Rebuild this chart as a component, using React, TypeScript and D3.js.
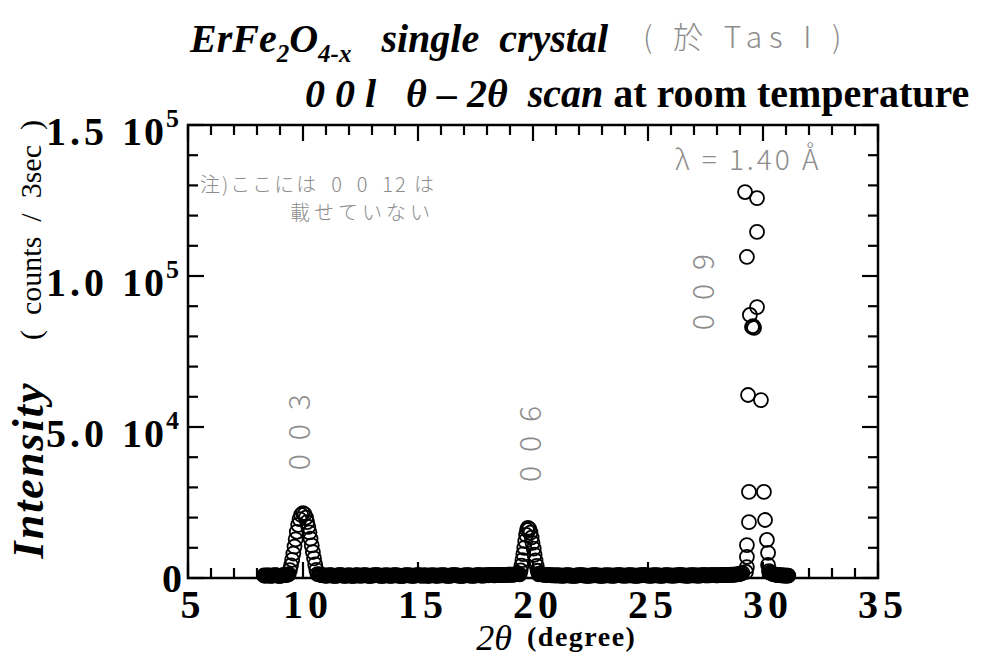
import React from "react";
import * as d3 from "d3";

// ---- chart data ---------------------------------------------------------
// 2θ axis range and labelled ticks
const xDomain: [number, number] = [5, 35];
const xTickValues = [5, 10, 15, 20, 25, 30, 35];
// intensity axis range and labelled ticks (mantissa × 10^exponent)
const yDomain: [number, number] = [0, 150000];
const yTickValues = [0, 50000, 100000, 150000];
const yTickMantissas = ["0", "5.0", "1.0", "1.5"];
const yTickExponents = ["", "4", "5", "5"];

// background scan segments: first 2θ and fixed 2θ step, counts per point
const bgStep = 0.05;
const bg1Start = 8.3;
const bg1Counts = [
  820, 790, 760, 840, 900, 810, 710, 780, 850, 900, 930, 860, 780, 730, 690, 770,
  880, 920, 960, 1010, 1050, 1150,
];
const bg2Start = 10.7;
const bg2Counts = [
  1180, 1090, 980, 900, 860, 820, 740, 790, 860, 900,
  910, 850, 780, 720, 690, 760, 830, 890, 950, 910,
  870, 800, 720, 760, 800, 840, 880, 820, 760, 700,
  690, 760, 920, 880, 840, 800, 770, 810, 860, 900,
  930, 870, 810, 750, 700, 740, 790, 840, 880, 930,
  950, 890, 830, 780, 720, 740, 760, 820, 890, 870,
  840, 770, 700, 760, 820, 870, 910, 880, 860, 800,
  750, 720, 690, 740, 800, 860, 930, 900, 870, 820,
  780, 750, 720, 780, 850, 900, 940, 880, 820, 790,
  760, 820, 880, 840, 710, 750, 790, 850, 900, 880,
  860, 800, 740, 770, 810, 840, 870, 900, 930, 870,
  800, 760, 720, 750, 780, 830, 890, 920, 950, 900,
  840, 790, 760, 730, 700, 750, 820, 860, 900, 940,
  880, 820, 790, 760, 730, 780, 850, 890, 940, 910,
  870, 830, 790, 820, 850, 880, 920, 900, 960, 930,
  990, 950, 880, 910, 940, 980, 1010, 970, 960, 1000,
  1040, 1010, 980, 1030, 1080, 1100, 1120, 1090, 1060, 1120,
  1180, 1230, 1300, 1380,
];
const bg3Start = 20.3;
const bg3Counts = [
  1400, 1260, 1150, 1110, 1070, 1040, 1010, 980, 960, 930,
  900, 880, 860, 840, 820, 850, 880, 830, 790, 760,
  740, 800, 860, 890, 910, 870, 830, 800, 760, 730,
  700, 760, 820, 850, 890, 920, 940, 900, 850, 810,
  780, 750, 720, 760, 800, 850, 880, 910, 930, 900,
  860, 810, 770, 740, 710, 770, 830, 860, 900, 880,
  850, 820, 790, 760, 740, 790, 860, 900, 950, 920,
  880, 840, 810, 780, 760, 800, 840, 870, 910, 890,
  870, 820, 780, 750, 720, 770, 820, 860, 900, 930,
  960, 920, 880, 840, 800, 770, 750, 790, 830, 870,
  910, 880, 860, 820, 790, 760, 730, 790, 850, 880,
  920, 900, 880, 850, 810, 780, 760, 800, 840, 870,
  900, 930, 950, 910, 870, 840, 800, 770, 740, 790,
  830, 880, 910, 890, 880, 850, 820, 800, 770, 820,
  860, 900, 930, 910, 890, 860, 840, 870, 900, 940,
  960, 930, 920, 890, 870, 900, 940, 960, 920, 940,
  1000, 980, 960, 990, 1030, 1060, 1090, 1040, 1080, 1120,
  1150, 1180, 1220, 1260, 1350, 1500, 1700,
];
const bg4Start = 30.3;
const bg4Counts = [
  1800, 1600, 1450, 1300, 1200, 1100, 1040, 980, 940, 900, 880, 860, 830, 800,
  790, 770, 760,
];

// 0 0 3 reflection
const peak003Theta = [
  9.38, 9.43, 9.48, 9.53, 9.58, 9.63, 9.68, 9.73, 9.79, 9.85, 9.92, 10.0,
  10.07, 10.13, 10.18, 10.23, 10.28, 10.33, 10.38, 10.43, 10.48, 10.53, 10.58, 10.63,
];
const peak003Counts = [
  1300, 2600, 4200, 6000, 8100, 10400, 12800, 15300, 17600, 19500, 20900, 21500,
  21100, 20000, 18500, 16900, 15100, 13000, 10800, 8600, 6500, 4500, 2700, 1300,
];

// 0 0 6 reflection
const peak006Theta = [
  19.42, 19.46, 19.5, 19.54, 19.58, 19.62, 19.66, 19.7, 19.74, 19.78,
  19.84, 19.89, 19.94, 19.98, 20.03, 20.07, 20.11, 20.16, 20.2, 20.25,
];
const peak006Counts = [
  1200, 2500, 4100, 5900, 7900, 10000, 12200, 14300, 15900, 16600,
  16200, 15000, 13400, 11600, 9700, 7700, 5800, 4000, 2400, 1200,
];

// 0 0 9 reflection
const peak009Theta = [
  29.22, 29.74, 29.74, 29.3, 29.74, 29.43, 29.52, 29.57, 29.61, 29.35, 29.91,
  29.39, 30.04, 29.39, 30.09, 29.3, 30.17, 29.3, 30.22, 29.3, 30.22, 29.26, 30.26,
];
const peak009Counts = [
  127800, 125800, 114600, 106300, 89700, 87100, 83100, 83400, 82800, 60600, 58900,
  28500, 28500, 18500, 19200, 10900, 12600, 7000, 8300, 3600, 4300, 2000, 2300,
];

// reflection labels written beside the peaks
const peakLabels = ["003", "006", "009"];
const peakLabelTheta = [10.3, 20.35, 27.85];
const peakLabelCounts = [50600, 46700, 97000];

// ---- layout ---------------------------------------------------------------
const W = 983;
const H = 662;
const plot = { left: 188, right: 878, top: 125, bottom: 578 };
const serif = "'Liberation Serif', 'Times New Roman', serif";
const hand = "'Noto Sans CJK JP', 'Noto Sans', sans-serif";
const pencil = "#8c8c8c";

type Pt = { t: number; c: number };

function segment(start: number, counts: number[]): Pt[] {
  return counts.map((c, i) => ({ t: +(start + i * bgStep).toFixed(3), c }));
}
function pairs(ts: number[], cs: number[]): Pt[] {
  return ts.map((t, i) => ({ t, c: cs[i] }));
}

export default function App() {
  const x = d3.scaleLinear().domain(xDomain).range([plot.left, plot.right]);
  const y = d3.scaleLinear().domain(yDomain).range([plot.bottom, plot.top]);

  const points: Pt[] = [
    ...segment(bg1Start, bg1Counts),
    ...segment(bg2Start, bg2Counts),
    ...segment(bg3Start, bg3Counts),
    ...segment(bg4Start, bg4Counts),
    ...pairs(peak003Theta, peak003Counts),
    ...pairs(peak006Theta, peak006Counts),
    ...pairs(peak009Theta, peak009Counts),
  ];

  const xMinor = d3.range(xDomain[0], xDomain[1] + 0.001, 1);
  const yMinor = d3.range(yDomain[0], yDomain[1] + 1, 10000);
  const majLen = 16;
  const minLen = 10;
  const pre = { whiteSpace: "pre" as const };

  return (
    <svg
      width={W}
      height={H}
      viewBox={`0 0 ${W} ${H}`}
      style={{ display: "block", position: "absolute", left: 0, top: 0, background: "#fff" }}
    >
      {/* title */}
      <text x={190} y={52} fontFamily={serif} fontSize={40} fontStyle="italic" fontWeight="bold" style={pre}>
        ErFe
        <tspan fontSize={25} dy={10}>2</tspan>
        <tspan dy={-10}>O</tspan>
        <tspan fontSize={25} dy={10}>4-x</tspan>
        <tspan dy={-10}>{"   single  crystal"}</tspan>
      </text>
      <text x={643} y={48} fontFamily={hand} fontWeight={300} fontSize={30} fill={pencil} letterSpacing={7} style={pre}>
        {"( 於 Tas I )"}
      </text>
      <text x={305} y={107} fontFamily={serif} fontSize={40} fontWeight="bold" style={pre}>
        <tspan fontStyle="italic">{"0 0 l   θ – 2θ  scan"}</tspan>
        <tspan>{" at room temperature"}</tspan>
      </text>

      {/* frame */}
      <rect
        x={plot.left}
        y={plot.top}
        width={plot.right - plot.left}
        height={plot.bottom - plot.top}
        fill="none"
        stroke="#000"
        strokeWidth={2.5}
      />
      {/* x ticks, bottom and top, pointing inward */}
      {xMinor.map((v) => {
        const len = v % 5 === 0 ? majLen : minLen;
        return (
          <g key={`xt${v}`} stroke="#000" strokeWidth={2.2}>
            <line x1={x(v)} x2={x(v)} y1={plot.bottom} y2={plot.bottom - len} />
            <line x1={x(v)} x2={x(v)} y1={plot.top} y2={plot.top + len} />
          </g>
        );
      })}
      {/* y ticks, left and right, pointing inward */}
      {yMinor.map((v) => {
        const len = v % 50000 === 0 ? majLen : minLen;
        return (
          <g key={`yt${v}`} stroke="#000" strokeWidth={2.2}>
            <line x1={plot.left} x2={plot.left + len} y1={y(v)} y2={y(v)} />
            <line x1={plot.right} x2={plot.right - len} y1={y(v)} y2={y(v)} />
          </g>
        );
      })}

      {/* x tick labels */}
      {xTickValues.map((v) => (
        <text
          key={`xl${v}`}
          x={x(v) + 5}
          y={618}
          textAnchor="middle"
          fontFamily={serif}
          fontWeight="bold"
          fontSize={40}
          letterSpacing={5}
        >
          {v}
        </text>
      ))}
      {/* y tick labels */}
      {yTickValues.map((v, i) =>
        yTickExponents[i] === "" ? (
          <text key={`yl${v}`} x={182} y={y(v) + 14} textAnchor="end" fontFamily={serif} fontWeight="bold" fontSize={40}>
            {yTickMantissas[i]}
          </text>
        ) : (
          <g key={`yl${v}`} fontFamily={serif} fontWeight="bold">
            <text x={46} y={y(v) + 20} fontSize={40} letterSpacing={4}>
              {yTickMantissas[i]}
            </text>
            <text x={122} y={y(v) + 20} fontSize={40} letterSpacing={2}>
              10
              <tspan fontSize={26} dy={-18}>{yTickExponents[i]}</tspan>
            </text>
          </g>
        )
      )}

      {/* axis titles */}
      <text x={512} y={650} textAnchor="end" fontFamily={serif} fontStyle="italic" fontSize={36}>
        2θ
      </text>
      <text x={527} y={646} fontFamily={serif} fontWeight="bold" fontSize={28} letterSpacing={1.5}>
        (degree)
      </text>
      <text
        transform={`translate(43, 470) rotate(-90)`}
        textAnchor="middle"
        fontFamily={serif}
        fontStyle="italic"
        fontWeight="bold"
        fontSize={44}
        letterSpacing={2}
      >
        Intensity
      </text>
      <text
        transform={`translate(41, 230) rotate(-90)`}
        textAnchor="middle"
        fontFamily={serif}
        fontSize={30}
        style={pre}
      >
        {"(  counts  /  3sec  )"}
      </text>

      {/* pencil notes */}
      <g fontFamily={hand} fontWeight={300} fill={pencil}>
        <text x={200} y={192} fontSize={20} letterSpacing={2} style={pre}>
          {"注)ここには  0  0  12 は"}
        </text>
        <text x={290} y={220} fontSize={20} letterSpacing={4} style={pre}>
          {"載せていない"}
        </text>
        <text x={675} y={170} fontSize={28} letterSpacing={3} style={pre}>
          {"λ = 1.40 Å"}
        </text>
        {peakLabels.map((s, i) => (
          <text
            key={s}
            transform={`translate(${x(peakLabelTheta[i])}, ${y(peakLabelCounts[i])}) rotate(-90)`}
            textAnchor="middle"
            fontSize={30}
            letterSpacing={14}
          >
            {s}
          </text>
        ))}
      </g>

      {/* measured points */}
      <g fill="none" stroke="#000" strokeWidth={1.8}>
        {points.map((p, i) => (
          <circle key={i} cx={x(p.t)} cy={y(p.c)} r={7} />
        ))}
      </g>
    </svg>
  );
}
